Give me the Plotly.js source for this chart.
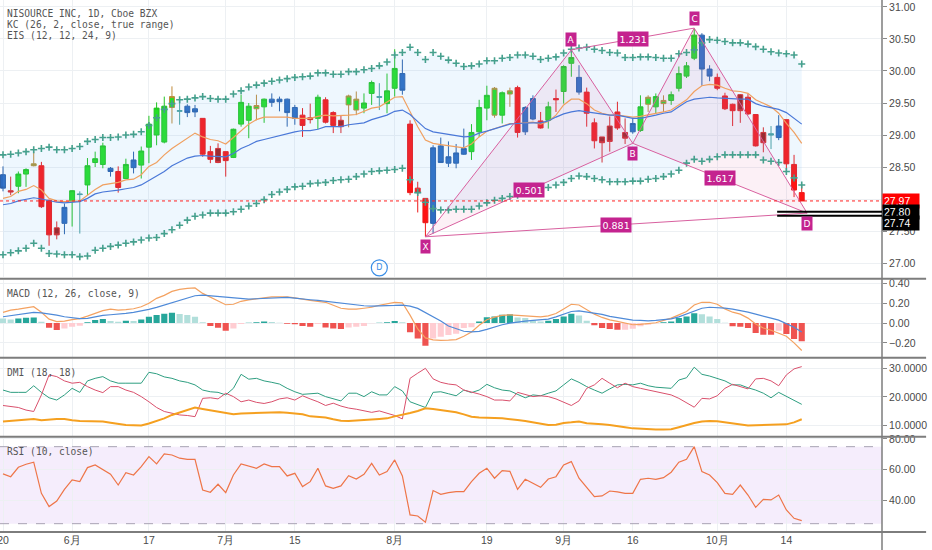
<!DOCTYPE html>
<html>
<head>
<meta charset="utf-8">
<script src="https://cdn.plot.ly/plotly-3.0.1.min.js"></script>
<style>
html, body { margin: 0; padding: 0; background: #fff; }
#chart { width: 932px; height: 550px; }
</style>
</head>
<body>
<div id="chart"></div>
<script>
// daily bars, 20 May -> 16 Oct (trading days only, index = bar number)
var tickIdx = [0, 9, 19, 29, 38, 51, 63, 73, 82, 93, 102];
var tickText = ['20', '6月', '17', '7月', '15', '8月', '19', '9月', '16', '10月', '14'];

var open = [28.38,28.13,28.20,28.39,28.52,28.52,27.98,27.55,27.62,27.96,
  28.08,28.22,28.57,28.54,28.48,28.43,28.32,28.49,28.53,28.81,
  29.00,28.89,29.43,29.37,29.45,29.41,29.26,28.74,28.79,28.74,
  28.65,29.17,29.23,29.41,29.44,29.56,29.52,29.56,29.43,29.31,
  29.27,29.26,29.55,29.35,29.23,29.47,29.39,29.42,29.65,29.60,
  29.49,29.73,29.96,29.17,28.17,28.01,27.62,28.83,28.56,28.56,
  28.70,28.74,29.05,29.42,29.31,29.31,29.64,29.74,29.05,29.25,
  29.22,29.23,29.57,29.68,30.12,29.90,29.67,29.19,28.97,29.14,
  29.36,29.04,29.05,29.07,29.48,29.44,29.49,29.54,29.73,29.92,
  30.20,30.56,30.03,29.90,29.61,29.48,29.63,29.59,29.32,29.04,
  29.02,28.96,29.24,28.54,28.10];
var high = [28.51,28.35,28.43,28.48,28.74,28.58,27.99,27.65,27.93,28.14,
  28.12,28.64,28.74,28.88,28.50,28.51,28.63,28.74,28.82,29.30,
  29.51,29.60,29.76,29.54,29.48,29.47,29.26,28.83,28.87,28.74,
  29.10,29.63,29.50,29.63,29.57,29.65,29.60,29.57,29.47,29.42,
  29.49,29.63,29.59,29.37,29.31,29.63,29.68,29.65,29.85,29.81,
  29.96,30.34,30.18,29.23,28.27,28.01,28.84,28.96,28.90,28.86,
  29.10,29.17,29.55,29.77,29.75,29.68,29.74,29.77,29.45,29.62,
  29.36,29.52,29.71,30.09,30.33,30.09,29.74,29.26,28.97,29.29,
  29.52,29.26,29.26,29.62,29.62,29.65,29.62,29.68,30.07,30.14,
  30.66,30.59,30.09,29.96,29.66,29.49,29.64,29.64,29.32,29.12,
  29.14,29.31,29.24,28.69,28.20];
var low = [28.12,28.06,28.09,28.19,28.51,27.86,27.27,27.37,27.45,27.57,
  27.46,28.06,28.50,28.48,28.35,28.10,28.32,28.40,28.32,28.56,
  28.84,28.87,29.18,29.16,29.28,29.28,28.66,28.56,28.56,28.35,
  28.64,29.13,28.95,29.23,29.19,29.44,29.37,29.13,29.16,28.97,
  29.18,29.09,29.18,29.03,29.03,29.12,29.31,29.34,29.47,29.39,
  29.34,29.60,29.63,28.06,27.79,27.41,27.46,28.57,28.50,28.48,
  28.69,28.61,28.97,29.23,29.27,29.18,29.44,28.96,29.00,29.23,
  29.10,29.10,29.36,29.49,29.91,29.63,29.13,28.79,28.57,28.74,
  29.08,28.86,29.02,29.05,29.36,29.34,29.36,29.47,29.68,29.89,
  30.17,29.77,29.84,29.70,29.39,29.14,29.19,29.31,28.82,28.73,
  28.78,28.92,28.40,28.03,27.97];
var close = [28.17,28.11,28.39,28.46,28.55,27.88,27.44,27.44,27.87,28.13,
  28.07,28.52,28.63,28.83,28.43,28.18,28.54,28.61,28.75,29.17,
  29.42,29.45,29.60,29.38,29.35,29.36,28.70,28.62,28.57,28.60,
  29.09,29.51,29.45,29.46,29.56,29.51,29.56,29.35,29.26,29.15,
  29.24,29.59,29.20,29.15,29.13,29.61,29.56,29.50,29.82,29.59,
  29.69,30.04,29.70,28.10,28.10,27.63,28.80,28.57,28.66,28.72,
  28.79,29.04,29.43,29.62,29.73,29.66,29.69,29.04,29.43,29.57,
  29.11,29.44,29.55,30.07,30.21,29.67,29.34,28.91,28.88,28.90,
  29.11,28.95,29.18,29.44,29.59,29.60,29.54,29.63,29.96,30.08,
  30.56,30.03,29.92,29.73,29.41,29.38,29.38,29.33,28.83,28.88,
  29.00,29.14,28.55,28.14,27.97];

// elder impulse colour of each candle as drawn
var barTone = ['b','d','g','g','o','r','r','d','b','g',
  't','g','g','g','b','r','g','b','g','g',
  'g','g','o','t','b','b','r','r','d','r',
  'g','g','g','o','g','b','b','b','b','r',
  'd','g','r','r','d','o','o','g','g','t',
  'g','g','b','r','r','r','b','b','b','b',
  'b','g','g','g','o','g','o','r','b','b',
  'r','g','r','g','g','b','r','r','d','d',
  'r','d','b','g','o','g','o','g','g','g',
  'g','b','b','r','r','r','d','r','r','d',
  't','b','r','r','r'];

var kcUpper = [28.69,28.70,28.72,28.74,28.77,28.79,28.81,28.77,28.77,28.79,
  28.82,28.90,28.93,28.96,28.96,28.97,29.00,29.01,29.05,29.15,
  29.27,29.40,29.49,29.55,29.56,29.58,29.60,29.57,29.56,29.56,
  29.64,29.69,29.75,29.78,29.81,29.84,29.86,29.88,29.90,29.91,
  29.92,29.97,29.97,29.95,29.95,29.99,29.99,30.02,30.04,30.08,
  30.14,30.25,30.29,30.37,30.29,30.18,30.29,30.23,30.17,30.12,
  30.07,30.08,30.11,30.16,30.16,30.20,30.21,30.25,30.25,30.23,
  30.18,30.20,30.22,30.28,30.34,30.36,30.37,30.34,30.32,30.29,
  30.28,30.21,30.21,30.22,30.22,30.21,30.20,30.20,30.27,30.29,
  30.33,30.44,30.49,30.48,30.46,30.44,30.44,30.42,30.38,30.34,
  30.30,30.28,30.27,30.25,30.11];
var kcLower = [27.13,27.16,27.19,27.23,27.31,27.23,27.15,27.14,27.13,27.13,
  27.10,27.11,27.20,27.23,27.26,27.28,27.31,27.33,27.36,27.39,
  27.40,27.46,27.52,27.59,27.67,27.73,27.75,27.78,27.78,27.78,
  27.80,27.84,27.89,27.93,27.99,28.07,28.11,28.15,28.19,28.20,
  28.24,28.25,28.26,28.29,28.30,28.31,28.35,28.39,28.43,28.44,
  28.45,28.46,28.48,28.30,28.10,27.95,27.85,27.83,27.83,27.84,
  27.84,27.84,27.89,27.94,27.98,28.01,28.04,28.06,28.09,28.14,
  28.17,28.18,28.22,28.26,28.32,28.36,28.35,28.32,28.30,28.27,
  28.27,28.27,28.28,28.28,28.31,28.32,28.35,28.39,28.45,28.56,
  28.62,28.59,28.62,28.66,28.69,28.69,28.69,28.69,28.69,28.61,
  28.59,28.57,28.43,28.33,28.22];

var emaFast = [28.01,28.04,28.12,28.15,28.21,28.14,28.01,27.97,27.96,27.96,
  27.97,28.06,28.15,28.22,28.24,28.26,28.30,28.31,28.38,28.51,
  28.57,28.69,28.79,28.87,28.95,29.03,28.97,28.93,28.91,28.86,
  28.96,29.07,29.17,29.24,29.28,29.28,29.28,29.28,29.26,29.26,
  29.26,29.29,29.31,29.30,29.30,29.31,29.32,29.37,29.42,29.44,
  29.52,29.59,29.60,29.36,29.13,28.92,28.87,28.85,28.83,28.82,
  28.80,28.86,28.97,29.06,29.10,29.14,29.18,29.18,29.19,29.20,
  29.17,29.21,29.31,29.47,29.56,29.56,29.49,29.39,29.34,29.31,
  29.31,29.29,29.28,29.29,29.31,29.34,29.36,29.39,29.47,29.55,
  29.68,29.77,29.79,29.78,29.73,29.69,29.68,29.65,29.55,29.49,
  29.44,29.34,29.18,29.04,28.87];
var emaSlow = [27.91,27.93,27.97,28.00,28.02,28.00,27.97,27.95,27.94,27.95,
  27.96,28.01,28.08,28.11,28.12,28.14,28.16,28.18,28.22,28.29,
  28.35,28.43,28.52,28.58,28.64,28.67,28.68,28.67,28.66,28.66,
  28.71,28.79,28.84,28.90,28.93,28.96,29.00,29.03,29.05,29.07,
  29.07,29.09,29.13,29.13,29.13,29.16,29.18,29.19,29.24,29.28,
  29.31,29.37,29.39,29.32,29.21,29.10,29.05,29.03,29.00,28.98,
  28.97,28.98,29.03,29.06,29.10,29.14,29.17,29.18,29.19,29.19,
  29.19,29.22,29.28,29.33,29.36,29.38,29.36,29.34,29.33,29.31,
  29.31,29.29,29.26,29.26,29.28,29.31,29.34,29.36,29.44,29.52,
  29.56,29.58,29.59,29.58,29.57,29.57,29.56,29.56,29.49,29.45,
  29.42,29.40,29.35,29.26,29.17];

var macdHist = [0.047,0.037,0.047,0.054,0.057,0.013,-0.047,-0.071,-0.054,-0.037,
  -0.027,0.007,0.030,0.040,0.020,0.013,0.024,0.020,0.037,0.064,
  0.081,0.094,0.104,0.091,0.081,0.064,0.007,-0.030,-0.047,-0.077,
  -0.054,-0.010,0.003,0.007,0.017,0.010,0.003,-0.007,-0.013,-0.030,
  -0.037,-0.010,-0.044,-0.054,-0.061,-0.044,-0.037,-0.030,-0.003,0.003,
  0.007,0.020,0.007,-0.094,-0.155,-0.229,-0.155,-0.138,-0.121,-0.108,
  -0.050,-0.043,0.017,0.060,0.067,0.083,0.090,0.057,0.050,0.027,
  0.017,0.023,0.040,0.067,0.093,0.077,0.023,-0.023,-0.050,-0.060,
  -0.067,-0.067,-0.057,-0.033,-0.017,-0.003,0.007,0.017,0.050,0.067,
  0.100,0.090,0.067,0.040,0.002,-0.033,-0.036,-0.050,-0.100,-0.117,
  -0.119,-0.077,-0.110,-0.160,-0.183];
var macdLine = [0.108,0.13,0.14,0.155,0.165,0.11,0.04,0.015,0.02,0.035,
  0.045,0.07,0.10,0.125,0.14,0.13,0.135,0.145,0.165,0.20,
  0.25,0.28,0.32,0.34,0.35,0.355,0.30,0.26,0.22,0.185,
  0.19,0.22,0.235,0.245,0.26,0.265,0.265,0.265,0.255,0.24,
  0.23,0.22,0.21,0.18,0.15,0.14,0.14,0.15,0.16,0.18,
  0.195,0.21,0.205,0.08,-0.06,-0.15,-0.17,-0.175,-0.172,-0.167,
  -0.133,-0.09,-0.023,0.033,0.06,0.077,0.083,0.077,0.07,0.063,
  0.063,0.073,0.097,0.143,0.19,0.183,0.133,0.09,0.057,0.033,
  0.017,-0.003,-0.017,-0.013,-0.007,0.003,0.027,0.05,0.083,0.117,
  0.183,0.21,0.21,0.19,0.143,0.11,0.09,0.05,-0.01,-0.05,
  -0.073,-0.10,-0.133,-0.20,-0.277];
var signalLine = [0.064,0.074,0.088,0.098,0.108,0.104,0.094,0.081,0.064,0.054,
  0.044,0.047,0.064,0.077,0.084,0.088,0.098,0.108,0.121,0.138,
  0.158,0.182,0.205,0.232,0.259,0.276,0.283,0.276,0.269,0.259,
  0.249,0.242,0.242,0.246,0.249,0.256,0.259,0.259,0.253,0.242,
  0.236,0.229,0.219,0.209,0.199,0.189,0.182,0.175,0.172,0.172,
  0.175,0.178,0.182,0.172,0.148,0.108,0.064,0.02,-0.03,-0.06,
  -0.083,-0.09,-0.083,-0.063,-0.037,-0.017,0.0,0.013,0.02,0.027,
  0.033,0.04,0.063,0.093,0.117,0.123,0.113,0.10,0.087,0.067,
  0.053,0.04,0.03,0.027,0.023,0.027,0.033,0.043,0.063,0.09,
  0.123,0.15,0.16,0.157,0.15,0.14,0.127,0.11,0.09,0.067,
  0.05,0.03,-0.003,-0.043,-0.09];

var diPlus = [22.4,21.6,21.6,21.6,23.9,21.6,19.7,18.9,20.7,23.0,
  21.6,25.6,26.5,27.1,25.6,24.8,24.8,24.8,24.8,28.6,
  28.1,27.0,26.5,25.6,25.1,24.2,22.4,21.8,21.6,20.7,
  23.0,27.9,26.2,26.5,25.6,25.1,24.5,23.0,21.8,20.9,
  21.0,21.3,20.1,19.3,18.6,21.3,21.3,20.1,21.8,20.7,
  20.7,23.6,22.1,18.3,17.2,16.3,21.6,21.8,21.1,20.4,
  22.4,21.5,22.4,24.4,23.2,22.4,22.1,20.9,19.7,20.7,
  20.4,21.3,22.1,24.2,26.3,25.1,23.6,22.4,21.3,22.8,
  24.2,24.4,24.2,24.8,23.9,23.4,23.2,23.0,25.9,26.7,
  30.4,27.9,27.3,26.5,25.6,24.2,24.2,23.2,22.4,21.3,
  19.7,21.6,20.1,18.6,17.4];
var diMinus = [17.0,16.6,16.3,15.4,14.9,20.7,27.7,27.1,25.6,24.8,
  25.1,23.6,22.4,21.5,23.6,23.6,22.4,21.6,20.1,18.3,
  16.3,14.9,14.2,13.7,13.5,13.1,19.5,19.7,19.3,21.3,
  20.1,18.3,18.9,18.1,17.7,18.3,19.3,19.7,18.9,20.4,
  19.3,18.3,17.0,17.8,16.8,16.1,15.7,15.1,14.6,15.1,
  14.2,13.5,12.3,26.5,28.3,30.0,26.3,25.1,24.5,24.2,
  22.4,21.8,21.0,20.1,18.9,18.9,18.6,21.6,20.9,20.1,
  20.4,20.1,19.3,18.1,17.0,18.6,23.0,24.2,26.5,24.8,
  23.2,24.8,23.6,23.0,22.4,21.8,21.3,20.7,19.5,17.8,
  16.4,19.5,19.3,20.4,23.0,24.4,23.6,22.8,26.3,26.5,
  25.6,23.9,27.7,29.8,30.6];
var adx = [11.4,11.6,11.8,12.1,12.3,11.8,12.1,12.3,12.3,11.8,
  11.6,11.6,11.5,11.4,11.0,10.5,10.2,10.1,10.0,10.7,
  11.6,12.5,13.7,14.6,15.4,16.3,15.8,15.3,14.9,14.4,
  13.9,14.2,14.3,14.5,14.6,14.6,14.6,14.5,14.3,13.9,
  13.2,13.0,12.8,12.2,11.7,11.6,11.7,11.8,12.1,12.3,
  12.5,13.2,13.7,14.4,15.1,16.0,15.8,15.4,15.1,14.6,
  13.9,13.1,12.8,12.8,12.6,12.5,12.3,11.9,11.6,11.1,
  10.7,10.2,10.3,10.9,11.1,11.4,10.8,10.7,10.4,10.2,
  9.7,9.4,9.0,8.8,8.7,8.6,8.6,8.7,9.4,10.2,
  10.9,11.4,11.6,11.5,11.1,10.7,10.2,10.0,10.1,10.2,
  10.2,10.2,10.4,11.1,12.2];

var rsi = [57.3,55.5,61.6,63.6,64.9,44.7,36.1,39.7,47.3,53.4,
  52.3,61.4,63.1,60.3,57.1,50.1,58.1,56.6,62.0,68.5,
  63.8,70.3,69.6,67.5,66.8,66.8,46.9,45.4,50.6,45.2,
  56.6,63.8,62.5,61.0,63.8,62.0,62.0,56.0,57.7,49.1,
  52.3,61.0,49.5,48.0,49.5,56.2,54.0,57.1,64.2,56.6,
  58.8,66.4,56.0,30.7,30.0,25.9,46.5,44.1,45.2,45.8,
  45.8,52.3,57.7,61.0,54.5,59.4,59.0,47.3,53.8,51.2,
  48.6,54.0,55.5,63.1,65.3,54.5,48.6,42.6,43.0,46.2,
  45.6,44.7,44.7,53.8,54.5,53.8,54.9,58.4,64.9,66.8,
  75.0,58.8,56.6,51.7,44.7,44.1,50.1,43.6,35.6,40.8,
  40.4,43.6,33.9,28.5,27.0];
var rsiBand = [25, 75];

// XABCD pattern drawn on the chart
var patternNames = ['X', 'A', 'B', 'C', 'D'];
var patternIdx = [55, 74, 82, 90, 104.7];
var patternPrice = [27.41, 30.33, 28.87, 30.67, 27.78];
var ratioLegs = [[0, 2], [1, 3], [2, 4], [0, 4]];
var ratioText = ['0.501', '1.231', '1.617', '0.881'];

var levelPrices = [27.80, 27.74];
var levelStart = 100.8;
var dividendIdx = [49];

var priceTicks = [27, 27.5, 28, 28.5, 29, 29.5, 30, 30.5, 31];
var priceTickText = ['27.00', '27.50', '', '28.50', '29.00', '29.50', '30.00', '30.50', '31.00'];

var n = close.length;
var idx = [];
for (var i = 0; i < n; i++) idx.push(i);

var xRange = [-0.39, 114.45];
var priceRange = [26.775, 31.109];
var monoFont = 'DejaVu Sans Mono, monospace';
var axisFont = {family: 'Liberation Sans, Arial, sans-serif', size: 10.5, color: '#4a4a4a'};
var gridColor = '#edf0f3';

var traces = [];

// keltner channel band
traces.push({x: idx, y: kcLower, xaxis: 'x', yaxis: 'y', mode: 'lines',
  line: {width: 0}, hoverinfo: 'skip', showlegend: false});
traces.push({x: idx, y: kcUpper, xaxis: 'x', yaxis: 'y', mode: 'lines', fill: 'tonexty',
  fillcolor: 'rgba(100,181,246,0.11)', line: {width: 0}, hoverinfo: 'skip', showlegend: false});

// pattern fills
function tri(a, b, c) {
  return {x: [patternIdx[a], patternIdx[b], patternIdx[c], patternIdx[a]],
          y: [patternPrice[a], patternPrice[b], patternPrice[c], patternPrice[a]]};
}
[[0, 1, 2], [2, 3, 4]].forEach(function(t) {
  var p = tri(t[0], t[1], t[2]);
  traces.push({x: p.x, y: p.y, xaxis: 'x', yaxis: 'y', mode: 'lines', fill: 'toself',
    fillcolor: 'rgba(225,90,160,0.09)', line: {width: 0}, hoverinfo: 'skip', showlegend: false});
});

traces.push({x: idx, y: emaFast, xaxis: 'x', yaxis: 'y', mode: 'lines',
  line: {color: '#f0a060', width: 1.2}, hoverinfo: 'skip', showlegend: false});
traces.push({x: idx, y: emaSlow, xaxis: 'x', yaxis: 'y', mode: 'lines',
  line: {color: '#4a78d8', width: 1.2}, hoverinfo: 'skip', showlegend: false});

[kcUpper, kcLower].forEach(function(band) {
  traces.push({x: idx, y: band, xaxis: 'x', yaxis: 'y', mode: 'markers',
    marker: {symbol: 'cross-thin', size: 5, line: {width: 1.6, color: '#45a08d'}},
    hoverinfo: 'skip', showlegend: false});
});

// candles, one trace per colour
var toneStyle = {
  g: {fill: '#25e025', line: '#22c422'},
  o: {fill: '#25e025', line: '#c08a3a'},
  r: {fill: '#ff1414', line: '#ee1a1a'},
  d: {fill: '#a01c1c', line: '#e02626'},
  b: {fill: '#2d6cc2', line: '#2b60aa'},
  t: {fill: '#4aa0a0', line: '#4aa0a0'}
};
Object.keys(toneStyle).forEach(function(tone) {
  var xs = [], o = [], h = [], l = [], c = [];
  for (var i = 0; i < n; i++) {
    if (barTone[i] !== tone) continue;
    xs.push(i); o.push(open[i]); h.push(high[i]); l.push(low[i]); c.push(close[i]);
  }
  var st = toneStyle[tone];
  traces.push({type: 'candlestick', x: xs, open: o, high: h, low: l, close: c,
    xaxis: 'x', yaxis: 'y', whiskerwidth: 0,
    increasing: {line: {color: st.line, width: 1}, fillcolor: st.fill},
    decreasing: {line: {color: st.line, width: 1}, fillcolor: st.fill},
    hoverinfo: 'skip', showlegend: false});
});

// pattern legs
var legX = [], legY = [];
patternIdx.forEach(function(v, k) { legX.push(v); legY.push(patternPrice[k]); });
ratioLegs.forEach(function(p) {
  legX.push(null, patternIdx[p[0]], patternIdx[p[1]]);
  legY.push(null, patternPrice[p[0]], patternPrice[p[1]]);
});
traces.push({x: legX, y: legY, xaxis: 'x', yaxis: 'y', mode: 'lines',
  line: {color: '#d8609f', width: 1}, connectgaps: false, hoverinfo: 'skip', showlegend: false});

// dividend marker
traces.push({x: dividendIdx, y: dividendIdx.map(function() { return priceRange[0] + 0.15; }),
  xaxis: 'x', yaxis: 'y', mode: 'markers+text', text: ['D'], textposition: 'middle center',
  textfont: {family: 'DejaVu Sans', size: 8, color: '#3a8ee6'},
  marker: {symbol: 'circle-open', size: 16, line: {color: '#3a8ee6', width: 1.2}, color: '#3a8ee6'},
  hoverinfo: 'skip', showlegend: false});

// MACD
var histColors = macdHist.map(function(v, i) {
  var prev = i > 0 ? macdHist[i - 1] : v + 0.01;
  if (v >= 0) return v > prev ? '#26a69a' : '#b2dfdb';
  return v < prev ? '#ef5350' : '#ffcdd2';
});
traces.push({type: 'bar', x: idx, y: macdHist, xaxis: 'x', yaxis: 'y2',
  marker: {color: histColors, line: {width: 0}}, width: 0.8, hoverinfo: 'skip', showlegend: false});
traces.push({x: idx, y: macdLine, xaxis: 'x', yaxis: 'y2', mode: 'lines',
  line: {color: '#f4a261', width: 1.2}, hoverinfo: 'skip', showlegend: false});
traces.push({x: idx, y: signalLine, xaxis: 'x', yaxis: 'y2', mode: 'lines',
  line: {color: '#4f8ad8', width: 1.2}, hoverinfo: 'skip', showlegend: false});

// DMI
traces.push({x: idx, y: diPlus, xaxis: 'x', yaxis: 'y3', mode: 'lines',
  line: {color: '#2e9e80', width: 1}, hoverinfo: 'skip', showlegend: false});
traces.push({x: idx, y: diMinus, xaxis: 'x', yaxis: 'y3', mode: 'lines',
  line: {color: '#d9506c', width: 1}, hoverinfo: 'skip', showlegend: false});
traces.push({x: idx, y: adx, xaxis: 'x', yaxis: 'y3', mode: 'lines',
  line: {color: '#f5a020', width: 2}, hoverinfo: 'skip', showlegend: false});

// RSI
traces.push({x: idx, y: rsi, xaxis: 'x', yaxis: 'y4', mode: 'lines',
  line: {color: '#ee7548', width: 1.2}, hoverinfo: 'skip', showlegend: false});

// separators, price lines
var sepColor = '#7d7d7d';
var shapes = [];
[0.4762, 0.3276, 0.1791, 0].forEach(function(y) {
  shapes.push({type: 'line', xref: 'paper', yref: 'paper', x0: 0, x1: 1.05, y0: y, y1: y,
    line: {color: sepColor, width: 2}});
});
shapes.push({type: 'line', xref: 'paper', yref: 'paper', x0: 1, x1: 1, y0: -0.04, y1: 1,
  line: {color: sepColor, width: 1.5}});
shapes.push({type: 'line', xref: 'paper', yref: 'y', x0: 0, x1: 1,
  y0: close[n - 1], y1: close[n - 1], line: {color: '#ff2020', width: 1, dash: 'dot'}});
levelPrices.forEach(function(p) {
  shapes.push({type: 'line', xref: 'x', yref: 'y', x0: levelStart, x1: xRange[1], y0: p, y1: p,
    line: {color: '#000', width: 2}});
});
shapes.push({type: 'rect', xref: 'paper', yref: 'y4', x0: 0, x1: 1, y0: rsiBand[0], y1: rsiBand[1],
  fillcolor: 'rgba(160,90,230,0.11)', line: {width: 0}, layer: 'below'});
rsiBand.forEach(function(v) {
  shapes.push({type: 'line', xref: 'paper', yref: 'y4', x0: 0, x1: 1, y0: v, y1: v,
    line: {color: '#a8a3b3', width: 1, dash: 'dash'}});
});

var annotations = [];
function paneTitle(lines, yref) {
  lines.forEach(function(t, k) {
    annotations.push({text: t, xref: 'paper', x: 0, xanchor: 'left', xshift: 5,
      yref: yref, y: 1, yanchor: 'top', yshift: -6 - 11 * k, showarrow: false,
      font: {family: monoFont, size: 9.6, color: '#555'}});
  });
}
paneTitle(['NISOURCE INC, 1D, Cboe BZX', 'KC (26, 2, close, true range)', 'EIS (12, 12, 24, 9)'], 'y domain');
paneTitle(['MACD (12, 26, close, 9)'], 'y2 domain');
paneTitle(['DMI (18, 18)'], 'y3 domain');
paneTitle(['RSI (10, close)'], 'y4 domain');

var tagColor = '#c4238f';
patternNames.forEach(function(name, k) {
  annotations.push({text: name, x: patternIdx[k], y: patternPrice[k], xref: 'x', yref: 'y',
    showarrow: false, yshift: (k % 2 === 0) ? -10 : 10, bgcolor: tagColor, borderpad: 1.5,
    font: {family: 'DejaVu Sans', size: 9, color: '#fff'}});
});
ratioLegs.forEach(function(p, k) {
  annotations.push({text: ratioText[k],
    x: (patternIdx[p[0]] + patternIdx[p[1]]) / 2,
    y: (patternPrice[p[0]] + patternPrice[p[1]]) / 2,
    xref: 'x', yref: 'y', showarrow: false, bgcolor: tagColor, borderpad: 1.5,
    font: {family: 'DejaVu Sans', size: 9.5, color: '#fff'}});
});

function priceTag(p, bg, shift) {
  annotations.push({text: p.toFixed(2), xref: 'paper', x: 1, xanchor: 'left', yref: 'y', y: p,
    yshift: shift, showarrow: false, bgcolor: bg, width: 34, align: 'left', borderpad: 1,
    font: {family: 'Liberation Sans, Arial, sans-serif', size: 10.5, color: '#fff'}});
}
priceTag(close[n - 1], '#ff0000', 0);
priceTag(levelPrices[0], '#000', 0);
priceTag(levelPrices[1], '#000', -7);

function yAxis(domain, range, vals, fmt) {
  return {domain: domain, range: range, side: 'right', anchor: 'x', tickvals: vals,
    tickformat: fmt, showgrid: true, gridcolor: gridColor, zeroline: false, showline: false,
    ticks: 'outside', ticklen: 4, tickcolor: '#888', tickfont: axisFont, fixedrange: true};
}

var priceAxis = yAxis([0.4785, 1], priceRange, priceTicks, '.2f');
priceAxis.ticktext = priceTickText;

var layout = {
  width: 932, height: 550,
  margin: {l: 0, r: 50, t: 0, b: 18},
  paper_bgcolor: '#fff', plot_bgcolor: '#fff',
  showlegend: false, hovermode: false,
  boxgap: 0.2, boxgroupgap: 0.2,
  xaxis: {range: xRange, anchor: 'y4', tickvals: tickIdx, ticktext: tickText,
    showgrid: true, gridcolor: gridColor, zeroline: false, showline: false, ticks: '',
    ticklabeloverflow: 'allow', tickfont: axisFont, rangeslider: {visible: false}, fixedrange: true},
  yaxis: priceAxis,
  yaxis2: yAxis([0.3295, 0.474], [-0.34, 0.437], [-0.2, 0, 0.2, 0.4], '.2f'),
  yaxis3: yAxis([0.181, 0.3255], [6.43, 33.32], [10, 20, 30], '.4f'),
  yaxis4: yAxis([0, 0.1775], [19.6, 80.9], [40, 60, 80], '.2f'),
  shapes: shapes,
  annotations: annotations
};

Plotly.newPlot('chart', traces, layout, {staticPlot: true, displayModeBar: false});
</script>
</body>
</html>
